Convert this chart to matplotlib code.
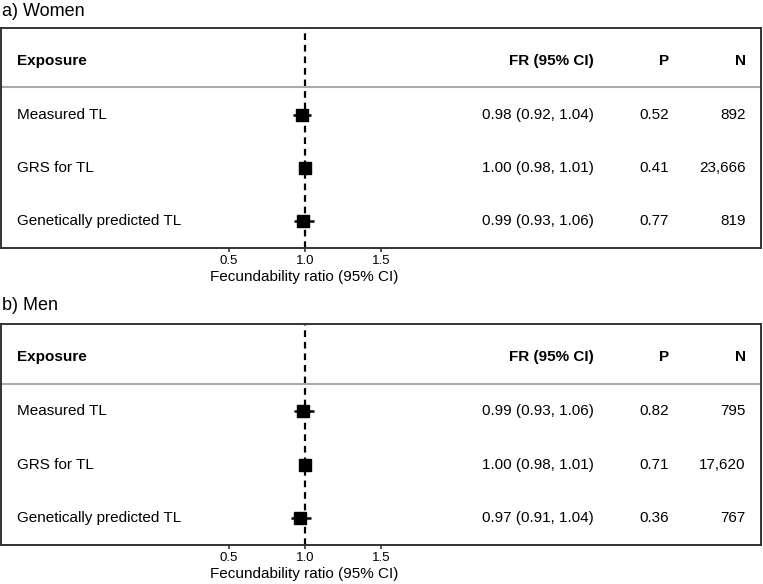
import matplotlib
matplotlib.use("Agg")
import matplotlib.pyplot as plt
import matplotlib.transforms as mtransforms

plt.rcParams["font.family"] = ["Liberation Sans", "DejaVu Sans"]

# ---- data ----
exposures = ["Measured TL", "GRS for TL", "Genetically predicted TL"]

women_fr = [0.98, 1.00, 0.99]
women_lo = [0.92, 0.98, 0.93]
women_hi = [1.04, 1.01, 1.06]
women_p = ["0.52", "0.41", "0.77"]
women_n = ["892", "23,666", "819"]

men_fr = [0.99, 1.00, 0.97]
men_lo = [0.93, 0.98, 0.91]
men_hi = [1.06, 1.01, 1.04]
men_p = ["0.82", "0.71", "0.36"]
men_n = ["795", "17,620", "767"]

xticks = [0.5, 1.0, 1.5]
panel_titles = ["a) Women", "b) Men"]

W, H = 763, 584
fig = plt.figure(figsize=(W / 100, H / 100), dpi=100)


def px_axes(left, top, right, bottom):
    return fig.add_axes([left / W, 1 - bottom / H, (right - left) / W, (bottom - top) / H])


def draw_panel(ax, fr, lo, hi, pvals, ns):
    ax.set_xlim(-1.0, 4.0)
    ax.set_ylim(3.5, -0.62)
    for s in ax.spines.values():
        s.set_color("#333333")
        s.set_linewidth(1.4)
    ax.set_yticks([])
    ax.set_xticks(xticks)
    ax.set_xticklabels([f"{t:.1f}" for t in xticks], fontsize=9.5)
    ax.tick_params(axis="x", length=3, width=1.2, pad=2, color="#333333")
    ax.set_xlabel("Fecundability ratio (95% CI)", fontsize=11)
    ax.xaxis.set_label_coords(0.3995, -0.098)

    ax.axvline(1.0, color="black", lw=1.6, ls=(0, (3, 2.2)), zorder=1)
    ax.axhline(0.49, color="#aaaaaa", lw=1.5, zorder=1)

    rows = list(range(1, len(fr) + 1))
    ax.hlines(rows, lo, hi, color="black", lw=1.8, zorder=2)
    ax.plot(fr, rows, "s", color="black", ms=8, zorder=3)

    trans = mtransforms.blended_transform_factory(ax.transAxes, ax.transData)
    ax.text(0.021, 0, "Exposure", transform=trans, fontsize=11, fontweight="bold", va="center")
    ax.text(0.780, 0, "FR (95% CI)", transform=trans, fontsize=11, fontweight="bold", va="center", ha="right")
    ax.text(0.879, 0, "P", transform=trans, fontsize=11, fontweight="bold", va="center", ha="right")
    ax.text(0.980, 0, "N", transform=trans, fontsize=11, fontweight="bold", va="center", ha="right")
    for y, name, f, l, h, p, n in zip(rows, exposures, fr, lo, hi, pvals, ns):
        ax.text(0.021, y, name, transform=trans, fontsize=11, va="center")
        ax.text(0.780, y, f"{f:.2f} ({l:.2f}, {h:.2f})", transform=trans, fontsize=11, va="center", ha="right")
        ax.text(0.879, y, p, transform=trans, fontsize=11, va="center", ha="right")
        ax.text(0.980, y, n, transform=trans, fontsize=11, va="center", ha="right")


ax_a = px_axes(1, 28, 761, 248)
draw_panel(ax_a, women_fr, women_lo, women_hi, women_p, women_n)
fig.text(2 / W, 1 - 12 / H, panel_titles[0], fontsize=13, va="center", ha="left")

ax_b = px_axes(1, 324, 761, 545)
draw_panel(ax_b, men_fr, men_lo, men_hi, men_p, men_n)
fig.text(2 / W, 1 - 305 / H, panel_titles[1], fontsize=13, va="center", ha="left")

fig.savefig("out.png", dpi=100)
